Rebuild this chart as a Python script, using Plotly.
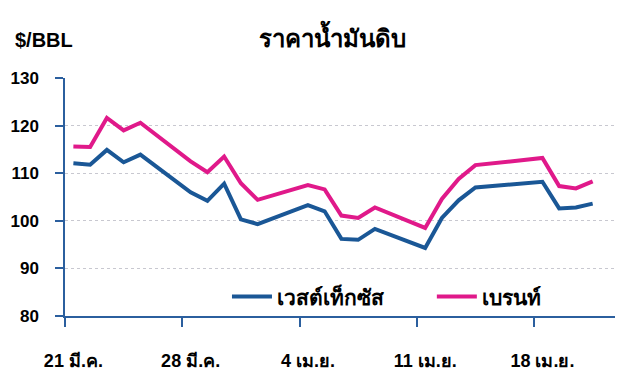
import pandas as pd
import plotly.graph_objects as go

dates = ["2022-03-21", "2022-03-22", "2022-03-23", "2022-03-24", "2022-03-25",
         "2022-03-28", "2022-03-29", "2022-03-30", "2022-03-31", "2022-04-01",
         "2022-04-04", "2022-04-05", "2022-04-06", "2022-04-07", "2022-04-08",
         "2022-04-11", "2022-04-12", "2022-04-13", "2022-04-14",
         "2022-04-18", "2022-04-19", "2022-04-20", "2022-04-21"]
wti = [112.1, 111.8, 114.9, 112.3, 113.9,
       106.0, 104.2, 107.8, 100.3, 99.3,
       103.3, 102.0, 96.2, 96.0, 98.3,
       94.3, 100.6, 104.3, 107.0,
       108.2, 102.6, 102.8, 103.6]
brent = [115.6, 115.5, 121.6, 119.0, 120.6,
         112.5, 110.2, 113.5, 107.9, 104.4,
         107.5, 106.6, 101.1, 100.6, 102.8,
         98.5, 104.6, 108.8, 111.7,
         113.2, 107.3, 106.8, 108.3]
tick_dates = ["2022-03-21", "2022-03-28", "2022-04-04", "2022-04-11", "2022-04-18"]
tick_labels = ["21 มี.ค.", "28 มี.ค.", "4 เม.ย.", "11 เม.ย.", "18 เม.ย."]
series_names = ["เวสต์เท็กซัส", "เบรนท์"]

half_day = pd.Timedelta(hours=12)
x = pd.to_datetime(dates) + half_day
tick_x = pd.to_datetime(tick_dates)

BLUE = "#1A5796"
PINK = "#E0198A"
AXIS = "#2B5F9E"
FONT = "Liberation Sans, Arial, sans-serif"

fig = go.Figure()
fig.add_trace(go.Scatter(x=x, y=wti, mode="lines", name=series_names[0],
                         line=dict(color=BLUE, width=4), legend="legend"))
fig.add_trace(go.Scatter(x=x, y=brent, mode="lines", name=series_names[1],
                         line=dict(color=PINK, width=4), legend="legend2"))

leg_common = dict(orientation="h", yanchor="middle", xanchor="left",
                  font=dict(size=21, family=FONT, weight="bold"),
                  bgcolor="rgba(0,0,0,0)", itemwidth=40)

fig.update_layout(
    width=615, height=384,
    margin=dict(l=57, r=8, t=70, b=76, autoexpand=False),
    paper_bgcolor="white", plot_bgcolor="white",
    font=dict(family=FONT, color="black", size=16),
    showlegend=True,
    legend=dict(x=0.2945, y=0.08, **leg_common),
    legend2=dict(x=0.667, y=0.08, **leg_common),
    title=dict(text="<b>ราคาน้ำมันดิบ</b>", x=0.527, xanchor="center", y=0.92, yanchor="middle",
               font=dict(size=24, family=FONT)),
    annotations=[dict(text="<b>$/BBL</b>", xref="paper", yref="paper", x=-0.095, y=1.16,
                      xanchor="left", yanchor="middle", showarrow=False,
                      font=dict(size=20, family=FONT))],
)
fig.update_xaxes(
    type="date", range=["2022-03-21", "2022-04-22 20:00"],
    tickmode="array", tickvals=tick_x + half_day, ticktext=tick_labels,
    ticks="outside", ticklen=0, tickwidth=0,
    minor=dict(tickmode="array", tickvals=tick_x, ticks="outside", ticklen=9,
               tickwidth=1.5, tickcolor=AXIS, showgrid=False),
    showline=True, linecolor=AXIS, linewidth=1.5, showgrid=False, zeroline=False,
    tickfont=dict(size=18, family=FONT, weight="bold"), ticklabelstandoff=28,
    automargin=False,
)
fig.update_yaxes(
    range=[80, 130], dtick=10, tick0=80,
    ticks="outside", ticklen=8, tickwidth=1.5, tickcolor=AXIS,
    showline=True, linecolor=AXIS, linewidth=1.5,
    showgrid=True, gridcolor="#C8C8D0", griddash="dot", gridwidth=1, zeroline=False,
    tickfont=dict(size=17, family=FONT, weight="bold"), ticklabelstandoff=13,
    automargin=False,
)

fig.write_html("out.html")
